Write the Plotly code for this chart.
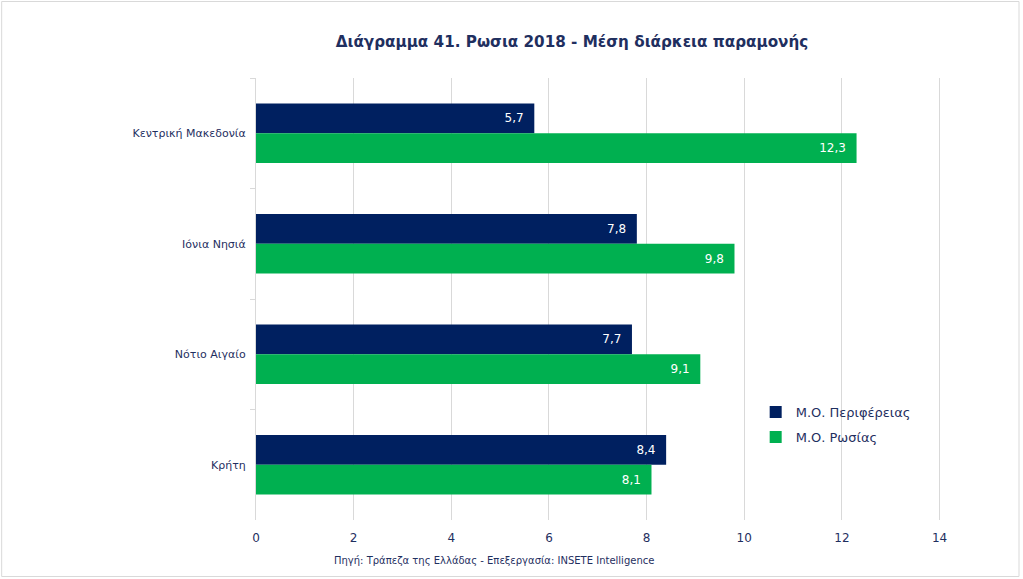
import plotly.graph_objects as go

categories = ["Κεντρική Μακεδονία", "Ιόνια Νησιά", "Νότιο Αιγαίο", "Κρήτη"]
region_avg = [5.7, 7.8, 7.7, 8.4]
russia_avg = [12.3, 9.8, 9.1, 8.1]
series_names = ["Μ.Ο. Περιφέρειας", "Μ.Ο. Ρωσίας"]
x_ticks = [0, 2, 4, 6, 8, 10, 12, 14]

navy = "#002060"
green = "#00B050"
text_col = "#1F2F5F"

W, H = 1023, 579
XMAX = 14.05
L, T, B = 256, 78, 59
R = 83 - (XMAX - 14) * 684 / 14
PW, PH = W - L - R, H - T - B

fig = go.Figure()
fig.add_trace(go.Bar(
    y=categories, x=region_avg, orientation="h", name=series_names[0], legendgroup="a",
    marker=dict(color=navy, line=dict(width=0)),
    texttemplate="%{x:.1f}\u00a0\u00a0", textposition="inside", insidetextanchor="end",
    textfont=dict(color="white", size=12, family="Verdana, DejaVu Sans"),
))
fig.add_trace(go.Bar(
    y=categories, x=russia_avg, orientation="h", name=series_names[1], legendgroup="b",
    marker=dict(color=green, line=dict(width=0)),
    texttemplate="%{x:.1f}\u00a0\u00a0", textposition="inside", insidetextanchor="end",
    textfont=dict(color="white", size=12, family="Verdana, DejaVu Sans"),
))

fig.update_layout(
    width=W, height=H,
    barmode="group", bargap=0.46, bargroupgap=0,
    separators=",.",
    paper_bgcolor="white", plot_bgcolor="white",
    margin=dict(l=L, r=R, t=T, b=B),
    font=dict(family="Verdana, DejaVu Sans", color=text_col, size=12),
    title=dict(text="<b>Διάγραμμα 41. Ρωσια 2018 - Μέση διάρκεια παραμονής</b>",
               x=(572) / W, xanchor="center", y=1 - 42 / H, yanchor="middle",
               font=dict(size=15.2, color=text_col)),
    legend=dict(x=(756 - L) / PW, y=0.278, xanchor="left", yanchor="top",
                font=dict(size=13, color=text_col),
                bgcolor="rgba(0,0,0,0)", tracegroupgap=5),
    xaxis=dict(range=[0, XMAX], tickvals=x_ticks, showgrid=True, gridcolor="#D9D9D9",
               gridwidth=1, zeroline=False, showline=False,
               ticks="outside", ticklen=7, tickcolor="rgba(0,0,0,0)",
               tickfont=dict(size=12, color=text_col)),
    yaxis=dict(autorange="reversed", showline=True, linecolor="#D9D9D9",
               ticks="outside", tickson="boundaries", ticklen=5, tickcolor="#D9D9D9",
               tickfont=dict(size=11, color=text_col), ticksuffix="  "),
    shapes=[dict(type="rect", xref="paper", yref="paper",
                 x0=-(L - 1.5) / PW, x1=1 + (R - 3.5) / PW,
                 y0=-(B - 2.5) / PH, y1=1 + (T - 1.5) / PH,
                 line=dict(color="#D9D9D9", width=1))],
    annotations=[dict(text="Πηγή: Τράπεζα της Ελλάδας - Επεξεργασία: INSETE Intelligence",
                      xref="paper", yref="paper", x=(494 - L) / PW, y=-(560 - T - PH) / PH,
                      xanchor="center", yanchor="middle", showarrow=False,
                      font=dict(size=10, color=text_col))],
)

fig.write_html("out.html", config={"displayModeBar": False},
               post_script="document.body.style.margin='0';document.body.style.overflow='hidden';")
